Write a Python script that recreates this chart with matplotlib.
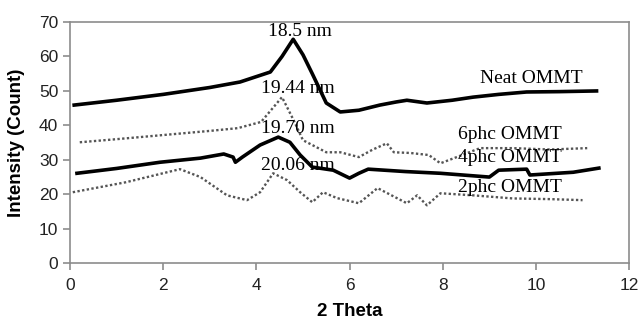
import numpy as np
import matplotlib.pyplot as plt

plt.rcParams['font.family'] = ['Liberation Sans', 'DejaVu Sans']

# XRD traces, values per series (2 theta, intensity)
neat_x = [0.09, 1.0, 2.0, 3.0, 3.65, 4.3, 4.55, 4.79, 5.0, 5.2, 5.5, 5.8, 6.2, 6.65, 7.0, 7.23, 7.66, 8.2, 8.65, 9.2, 9.8, 10.5, 11.3]
neat_y = [45.9, 47.3, 49.0, 51.0, 52.6, 55.5, 60.0, 65.0, 60.5, 55.0, 46.5, 43.9, 44.4, 45.9, 46.8, 47.3, 46.5, 47.3, 48.2, 49.0, 49.7, 49.8, 50.0]

phc6_x = [0.21, 1.0, 2.0, 3.0, 3.6, 4.1, 4.55, 4.8, 5.0, 5.5, 5.8, 6.2, 6.5, 6.8, 6.95, 7.3, 7.7, 7.95, 8.3, 8.8, 9.5, 10.3, 11.1]
phc6_y = [35.1, 36.0, 37.2, 38.4, 39.2, 41.0, 48.2, 41.5, 35.7, 32.2, 32.2, 30.8, 33.0, 34.8, 32.2, 32.0, 31.4, 29.0, 30.8, 33.4, 33.4, 33.0, 33.4]

phc4_x = [0.15, 1.0, 1.93, 2.8, 3.3, 3.5, 3.55, 3.7, 4.08, 4.47, 4.72, 4.94, 5.2, 5.65, 6.0, 6.2, 6.4, 7.2, 7.95, 9.0, 9.2, 9.8, 9.87, 10.8, 11.35]
phc4_y = [26.1, 27.5, 29.3, 30.5, 31.7, 30.8, 29.3, 30.8, 34.3, 36.6, 35.1, 31.4, 27.9, 27.0, 24.7, 26.1, 27.3, 26.6, 26.1, 25.0, 27.0, 27.3, 25.6, 26.4, 27.6]

phc2_x = [0.06, 1.2, 2.36, 2.8, 3.37, 3.8, 4.08, 4.36, 4.66, 4.94, 5.2, 5.43, 5.73, 6.2, 6.6, 7.23, 7.45, 7.66, 7.95, 8.65, 9.5, 10.3, 11.0]
phc2_y = [20.6, 23.5, 27.3, 25.0, 19.7, 18.3, 20.6, 26.1, 24.1, 20.6, 17.7, 20.6, 18.9, 17.4, 21.8, 17.4, 19.7, 16.8, 20.3, 19.7, 18.8, 18.6, 18.3]

# d-spacing annotations and sample labels
spacing_text = ['18.5 nm', '19.44 nm', '19.70 nm', '20.06 nm']
spacing_pos = [(4.94, 67.4), (4.9, 50.6), (4.9, 39.2), (4.9, 28.4)]
sample_text = ['Neat OMMT', '6phc OMMT', '4phc OMMT', '2phc OMMT']
sample_pos = [(9.9, 53.6), (9.45, 37.4), (9.45, 30.6), (9.45, 22.0)]

fig = plt.figure(figsize=(6.42, 3.29), dpi=100)
ax = fig.add_axes([0.109, 0.200, 0.871, 0.733])

ax.plot(neat_x, neat_y, color='black', lw=2.6)
ax.plot(phc6_x, phc6_y, color='#555555', lw=1.7, ls=(0, (1, 1)))
ax.plot(phc4_x, phc4_y, color='black', lw=2.6)
ax.plot(phc2_x, phc2_y, color='#555555', lw=1.7, ls=(0, (1, 1)))

for t, (x, y) in zip(spacing_text, spacing_pos):
    ax.text(x, y, t, ha='center', va='center', fontsize=14, family='Liberation Serif')
for t, (x, y) in zip(sample_text, sample_pos):
    ax.text(x, y, t, ha='center', va='center', fontsize=14, family='Liberation Serif')

ax.set_xlim(0, 12)
ax.set_ylim(0, 70)
ax.set_xticks(np.arange(0, 13, 2))
ax.set_yticks(np.arange(0, 71, 10))
for s in ax.spines.values():
    s.set_color('#8c8c8c')
    s.set_linewidth(1.2)
ax.tick_params(colors='#8c8c8c', labelcolor='#222222', labelsize=12.5, direction='out', length=5, width=1.2)
ax.tick_params(axis='x', pad=6)
ax.set_xlabel('2 Theta', fontsize=13.5, fontweight='bold', labelpad=7)
ax.set_ylabel('Intensity (Count)', fontsize=13.5, fontweight='bold')
ax.yaxis.set_label_coords(-0.08, 0.5)

fig.savefig('out.png', dpi=100)
